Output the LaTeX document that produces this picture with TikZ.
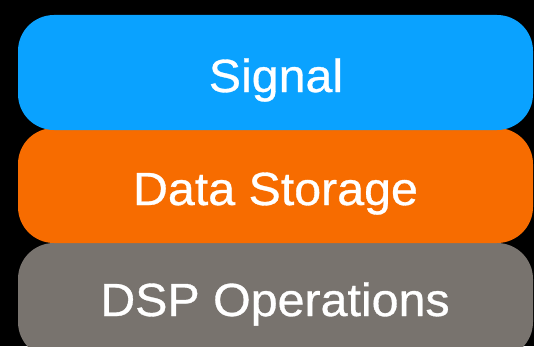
\documentclass[tikz,border=0pt]{standalone}
\usepackage{fontspec}
\setmainfont{Liberation Sans}
\newfontfamily\layerfont{Liberation Sans}[FakeBold=0.7,FakeStretch=1.04]
\definecolor{layerblue}{RGB}{10,162,255}
\definecolor{layerorange}{RGB}{247,108,0}
\definecolor{layergray}{RGB}{120,115,110}
\tikzset{
  layer/.style={rectangle, rounded corners=36pt, minimum width=515pt,
    minimum height=115pt, inner sep=0pt, draw=none},
  layertext/.style={anchor=base, text=white, inner sep=0pt,
    font=\layerfont\fontsize{46.5}{50}\selectfont}
}
\begin{document}
\begin{tikzpicture}[x=1pt,y=1pt]
  \useasboundingbox (0,0) rectangle (534,346);
  \clip (0,0) rectangle (534,346);
  \fill[black] (0,0) rectangle (534,346);
  % stacked layers, bottom one runs off the lower edge
  \node[layer, fill=layergray]   (ops)  at (275.5,45.5)  {};
  \node[layer, fill=layerorange] (stor) at (275.5,160.5) {};
  \node[layer, fill=layerblue]   (sig)  at (275.5,273.5) {};
  % labels, placed on their baselines
  \node[layertext] (sigtxt)  at (276,254)  {Signal};
  \node[layertext] (stortxt) at (275.5,141) {Data Storage};
  \node[layertext] (opstxt)  at (275,30)   {DSP Operations};
\end{tikzpicture}
\end{document}
